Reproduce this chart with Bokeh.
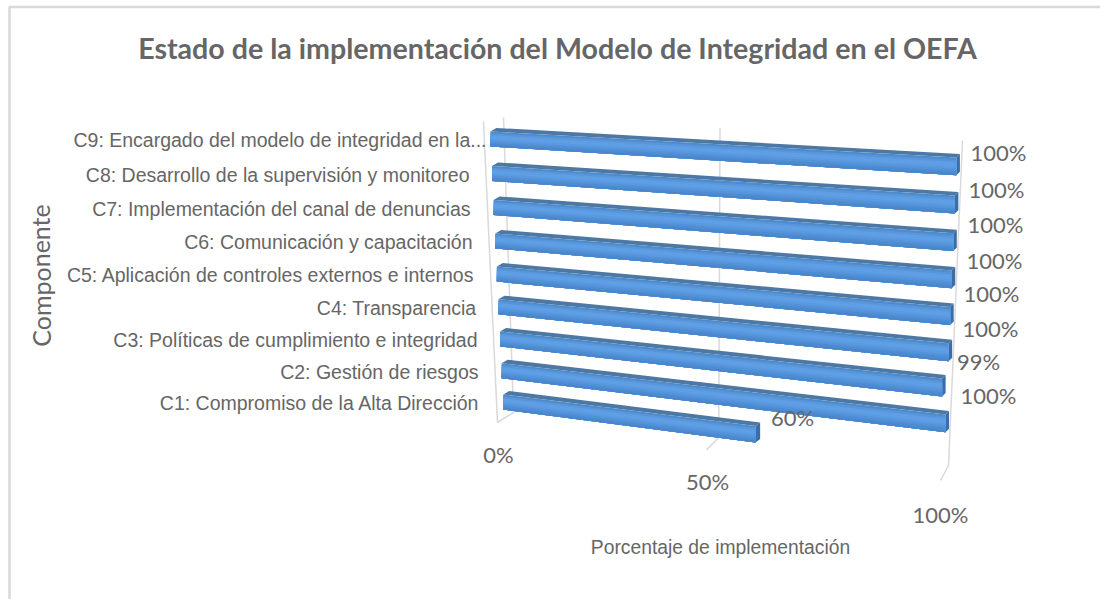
from bokeh.plotting import figure
from bokeh.embed import file_html
from bokeh.resources import INLINE
from bokeh.core.properties import value as V

# ---- data ----
categories = ["C1: Compromiso de la Alta Dirección", "C2: Gestión de riesgos",
              "C3: Políticas de cumplimiento e integridad", "C4: Transparencia",
              "C5: Aplicación de controles externos e internos", "C6: Comunicación y capacitación",
              "C7: Implementación del canal de denuncias", "C8: Desarrollo de la supervisión y monitoreo",
              "C9: Encargado del modelo de integridad en la..."]
values = [60, 100, 99, 100, 100, 100, 100, 100, 100]
value_labels = ["60%", "100%", "99%", "100%", "100%", "100%", "100%", "100%", "100%"]
axis_ticks = [0, 50, 100]
axis_tick_labels = ["0%", "50%", "100%"]
title = "Estado de la implementación del Modelo de Integridad en el OEFA"
x_title = "Porcentaje de implementación"
y_title = "Componente"

# ---- layout (page pixels of the oblique projection) ----
W, H = 1100, 599
K = 1.12
cat_right = [479, 478, 477, 476, 474, 472, 470, 469, 486]
label_cx = [792, 988, 978, 990, 991, 994, 995, 996, 998]
label_cy = [417, 395, 361, 328, 293, 260, 224, 189, 152]
tick_pos = [(498, 454), (707, 481), (940, 514)]
FRONT = ["#4f8aca", "#5796da", "#5e9ee4", "#5f9fe6", "#5a9ae0", "#5493da", "#4e8cd2", "#4a86cc"]
TOP_C, SIDE_C, GRID_C, TEXT_C = "#4d78a4", "#3a6ea6", "#d9d9d9", "#666666"


def f(v):
    t = v / 100
    return t / (t + K * (1 - t))


def xf(i, v):
    l = 502.7 - 1.6 * i
    r = 943.5 + 1.55 * i
    return l + (r - l) * f(v)


def yf(i, v):
    l = 394 - 31.08 * i - 0.225 * i * i
    r = 448.9 - 34.68 * i - 0.225 * i * i
    return l + (r - l) * f(v)


def hf(v):
    return 15 + 2.8 * f(v)


def dxf(v):
    return 6 - 2.5 * f(v)


DY = -3.5

p = figure(width=W, height=H, x_range=(0, W), y_range=(H, 0),
           toolbar_location=None, output_backend="svg", min_border=0,
           outline_line_color=None, background_fill_color="white",
           border_fill_color="white")
p.xaxis.visible = False
p.yaxis.visible = False
p.grid.visible = False

# chart frame
p.line([9, 9, W], [H, 6.5, 6.5], line_color="#d9d9d9", line_width=2.5)

# walls and gridlines: floor corner at the front, rising wall behind
for v in axis_ticks:
    t = f(v)
    xb = 513 + (948 - 513) * t
    yb = 412 + (465 - 412) * t
    xt = 503 + (962 - 503) * t
    yt = 117 + (140 - 117) * t
    xa = 497 + (940 - 497) * t
    ya = 422 + (480 - 422) * t
    p.line([xt, xb, xa], [yt, yb, ya], line_color=GRID_C, line_width=1.5)
p.line([483, 497], [121, 422], line_color=GRID_C, line_width=1.5)

# bars, back to front
for i in range(len(values) - 1, -1, -1):
    v = values[i]
    x0, x1 = xf(i, 0), xf(i, v)
    y0, y1 = yf(i, 0), yf(i, v)
    h0, h1 = hf(0), hf(v)
    d0, d1 = dxf(0), dxf(v)
    p.patch([x0, x0 + d0, x1 + d1, x1], [y0, y0 + DY, y1 + DY, y1], fill_color=TOP_C, line_color=None)
    p.patch([x1, x1 + d1, x1 + d1, x1], [y1, y1 + DY, y1 + h1 + DY, y1 + h1], fill_color=SIDE_C, line_color=None)
    n = len(FRONT)
    for k, c in enumerate(FRONT):
        a = k / n
        p.patch([x0, x1, x1, x0], [y0 + h0 * a, y1 + h1 * a, y1 + h1, y0 + h0],
                fill_color=c, line_color=None)

FT = V("Lato")
AR = V("Liberation Sans")

# category labels
for i, c in enumerate(categories):
    p.text([cat_right[i]], [yf(i, 0) + 8.7], text=[c], text_font=AR, text_font_size="19.5px",
           text_color=TEXT_C, text_align="right", text_baseline="middle")
# value labels
for i, s in enumerate(value_labels):
    p.text([label_cx[i]], [label_cy[i]], text=[s], text_font=FT, text_font_size="22px",
           text_color=TEXT_C, text_align="center", text_baseline="middle")
# tick labels
for (x, y), s in zip(tick_pos, axis_tick_labels):
    p.text([x], [y], text=[s], text_font=FT, text_font_size="22px",
           text_color=TEXT_C, text_align="center", text_baseline="middle")

p.text([557], [47], text=[title], text_font=FT, text_font_size="28.6px", text_font_style="bold",
       text_color=TEXT_C, text_align="center", text_baseline="middle")
p.text([720], [547], text=[x_title], text_font=AR, text_font_size="19.3px",
       text_color=TEXT_C, text_align="center", text_baseline="middle")
p.text([40], [275], text=[y_title], text_font=FT, text_font_size="25px", angle=1.5708,
       text_color=TEXT_C, text_align="center", text_baseline="middle")

open("out.html", "w").write(file_html(p, INLINE))
